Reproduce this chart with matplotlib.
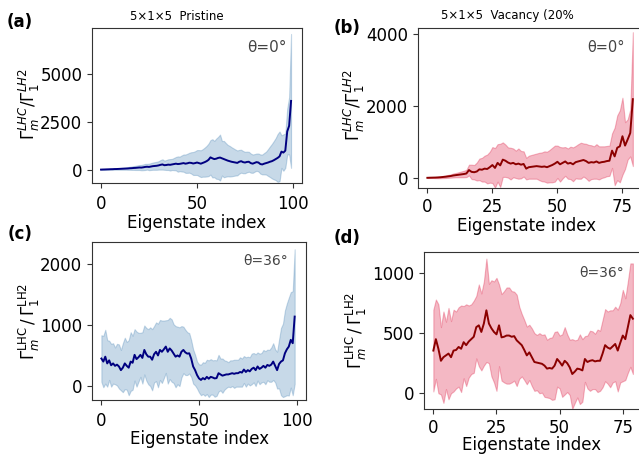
import numpy as np
from matplotlib import pyplot as plt

# panel (a): 5x1x5 pristine, theta = 0
mean_a = [10, 15, 18, 22, 25, 30, 32, 38, 40, 45,
          50, 55, 60, 65, 70, 80, 85, 95, 100, 110,
          120, 115, 130, 150, 160, 150, 170, 190, 200, 210,
          230, 260, 280, 240, 250, 270, 260, 280, 300, 320,
          300, 310, 330, 350, 320, 340, 370, 360, 330, 350,
          380, 350, 320, 360, 400, 450, 520, 650, 600, 560,
          580, 620, 640, 600, 560, 520, 480, 450, 420, 400,
          380, 360, 420, 450, 400, 380, 410, 420, 350, 320,
          360, 400, 380, 300, 280, 320, 350, 380, 420, 450,
          500, 560, 620, 700, 950, 900, 1000, 2000, 2300, 3600]
std_a = [10, 12, 15, 20, 22, 25, 28, 30, 35, 40,
         45, 50, 55, 60, 70, 80, 90, 100, 110, 120,
         130, 140, 150, 160, 150, 170, 180, 190, 200, 210,
         220, 250, 270, 240, 260, 280, 300, 290, 320, 350,
         400, 380, 420, 450, 480, 500, 520, 560, 600, 620,
         650, 680, 700, 720, 760, 800, 850, 900, 1000, 950,
         1050, 1100, 1200, 900, 950, 880, 820, 800, 760, 720,
         680, 650, 620, 600, 580, 560, 540, 520, 500, 480,
         460, 450, 470, 500, 520, 560, 600, 700, 800, 900,
         1000, 1100, 1250, 1300, 850, 950, 900, 1200, 1500, 3500]

# panel (b): 5x1x5 vacancy, theta = 0
mean_b = [5, 8, 10, 12, 15, 20, 28, 35, 45, 55,
          70, 80, 90, 100, 110, 125, 220, 170, 160, 180,
          240, 230, 260, 250, 300, 360, 280, 420, 350, 510,
          480, 430, 400, 420, 380, 400, 370, 390, 260, 300,
          310, 320, 330, 320, 310, 320, 300, 330, 360, 400,
          450, 380, 420, 460, 400, 420, 380, 440, 460, 480,
          500, 470, 420, 440, 430, 460, 420, 440, 450, 470,
          480, 760, 600, 840, 880, 1160, 900, 1070, 1250, 2190]
std_b = [5, 8, 10, 15, 20, 25, 30, 35, 40, 45,
         55, 60, 70, 80, 90, 100, 150, 200, 200, 250,
         300, 330, 360, 400, 430, 500, 550, 520, 600, 480,
         450, 420, 440, 400, 380, 420, 380, 350, 300, 320,
         330, 340, 350, 380, 400, 420, 430, 450, 480, 500,
         450, 480, 430, 400, 420, 450, 470, 450, 480, 500,
         460, 480, 500, 470, 450, 480, 460, 440, 430, 420,
         420, 480, 800, 900, 1000, 1070, 650, 560, 650, 1860]

# panel (c): 5x1x5 pristine, theta = 36
mean_c = [450, 400, 480, 370, 420, 340, 370, 330, 350, 320,
          260, 300, 370, 330, 300, 400, 380, 510, 440, 470,
          510, 460, 590, 520, 480, 480, 430, 520, 560, 500,
          590, 560, 600, 645, 560, 615, 580, 530, 480, 500,
          480, 560, 590, 550, 530, 535, 450, 320, 260, 180,
          125, 100, 130, 110, 150, 120, 150, 140, 125, 130,
          210, 190, 170, 180, 190, 190, 200, 210, 200, 210,
          210, 230, 220, 270, 230, 260, 240, 280, 300, 260,
          320, 280, 300, 330, 300, 345, 330, 350, 400, 330,
          260, 360, 400, 420, 535, 600, 645, 755, 700, 1135]
std_c = [380, 420, 440, 380, 320, 350, 330, 300, 340, 360,
         330, 400, 420, 390, 450, 480, 440, 420, 450, 400,
         360, 420, 400, 430, 450, 480, 500, 460, 480, 520,
         490, 510, 470, 430, 520, 500, 510, 480, 500, 470,
         480, 420, 380, 370, 350, 330, 300, 280, 250, 220,
         230, 250, 260, 270, 280, 300, 290, 280, 300, 290,
         300, 260, 280, 240, 220, 200, 220, 210, 230, 220,
         220, 240, 230, 220, 240, 220, 230, 250, 240, 260,
         230, 250, 240, 260, 270, 250, 260, 280, 300, 270,
         300, 400, 550, 600, 700, 750, 800, 780, 850, 1100]

# panel (d): 5x1x5 vacancy, theta = 36
mean_d = [355, 450, 370, 270, 300, 315, 330, 300, 355, 360,
          385, 370, 425, 400, 430, 450, 470, 550, 565, 510,
          580, 690, 580, 540, 510, 490, 565, 465, 470, 480,
          480, 470, 475, 440, 420, 400, 360, 315, 340, 300,
          260, 255, 250, 245, 230, 205, 210, 205, 230, 285,
          260, 230, 270, 250, 215, 160, 180, 205, 200, 190,
          285, 260, 270, 275, 265, 270, 270, 330, 400, 380,
          370, 390, 410, 355, 420, 480, 450, 550, 650, 620]
std_d = [340, 330, 370, 280, 380, 280, 380, 300, 340, 320,
         330, 360, 300, 340, 300, 290, 300, 260, 340, 320,
         350, 430, 330, 400, 420, 470, 340, 360, 380, 400,
         400, 380, 370, 380, 300, 260, 250, 240, 230, 240,
         240, 230, 250, 240, 260, 240, 250, 260, 280, 230,
         220, 260, 280, 240, 230, 290, 260, 240, 290, 260,
         190, 220, 250, 240, 230, 260, 250, 280, 300, 300,
         320, 300, 310, 340, 330, 380, 340, 380, 430, 460]

W, H = 639, 454
fig = plt.figure(figsize=(W / 100, H / 100), dpi=100)


def px_axes(l, t, r, b):
    return fig.add_axes([l / W, 1 - b / H, (r - l) / W, (b - t) / H])


def px_text(x, y, s, **kw):
    fig.text(x / W, 1 - y / H, s, ha="center", va="center", **kw)


ylab_it = r"$\Gamma_m^{LHC}/\Gamma_1^{LH2}$"
ylab_rm = r"$\Gamma^{\mathrm{LHC}}_m\,/\,\Gamma^{\mathrm{LH2}}_1$"

panels = [
    # mean, std, box(l,t,r,b), xlim, ylim, xticks, yticks, line, fill, ylabel
    (mean_a, std_a, (92, 28, 302, 183), (-4.7, 104.7), (-690, 7410),
     [0, 50, 100], [0, 2500, 5000], "#000080", "steelblue", ylab_it),
    (mean_b, std_b, (418, 28, 643, 188), (-3.6, 82.9), (-278, 4167),
     [0, 25, 50, 75], [0, 2000, 4000], "#8B0000", "crimson", ylab_it),
    (mean_c, std_c, (92, 242, 306, 400), (-4.8, 104.8), (-228, 2354),
     [0, 50, 100], [0, 1000, 2000], "#000080", "steelblue", ylab_rm),
    (mean_d, std_d, (424, 252, 643, 409), (-3.7, 83.0), (-131, 1175),
     [0, 25, 50, 75], [0, 500, 1000], "#8B0000", "crimson", ylab_rm),
]
xlab_pos = [(197, 223), (527, 226), (200, 439), (532, 445)]
ylab_pos = [(29, 104), (354, 105), (29, 321), (356, 330)]
xpads = [5, 3.5, 5, 3.5]
theta_txt = [("θ=0°", 267, 48, 11), ("θ=0°", 606, 47, 10.5),
             ("θ=36°", 266, 261, 10), ("θ=36°", 602, 273, 10)]

for i, (m, s, box, xl, yl, xt, yt, lc, fc, ylab) in enumerate(panels):
    ax = px_axes(*box)
    m = np.array(m, dtype=float)
    s = np.array(s, dtype=float)
    x = np.arange(len(m))
    ax.fill_between(x, m - s, m + s, color=fc, alpha=0.3, lw=0.8)
    ax.plot(x, m, color=lc, lw=1.4)
    ax.set_xlim(*xl)
    ax.set_ylim(*yl)
    ax.set_xticks(xt)
    ax.set_yticks(yt)
    ax.tick_params(labelsize=12, color="#333333")
    ax.tick_params(axis="x", pad=xpads[i])
    for sp in ax.spines.values():
        sp.set_color("#333333")

    ax.set_xlabel("Eigenstate index", fontsize=12, va="center")
    l, t, r, b = box
    xp, yp = xlab_pos[i]
    ax.xaxis.set_label_coords((xp - l) / (r - l), (b - yp) / (b - t))
    ax.set_ylabel(ylab, fontsize=12, va="center")
    xp, yp = ylab_pos[i]
    ax.yaxis.set_label_coords((xp - l) / (r - l), (b - yp) / (b - t))

    s_, tx, ty, fs = theta_txt[i]
    px_text(tx, ty, s_, fontsize=fs, color="#444444")

# panel letters and titles
px_text(20, 22, "(a)", fontsize=12, fontweight="bold")
px_text(347, 28, "(b)", fontsize=12, fontweight="bold")
px_text(20, 234, "(c)", fontsize=12, fontweight="bold")
px_text(347, 238, "(d)", fontsize=12, fontweight="bold")
px_text(177, 17, "5×1×5  Pristine", fontsize=8.5)
px_text(507, 16, "5×1×5  Vacancy (20%", fontsize=8.5)

fig.savefig("out.png", dpi=100)
